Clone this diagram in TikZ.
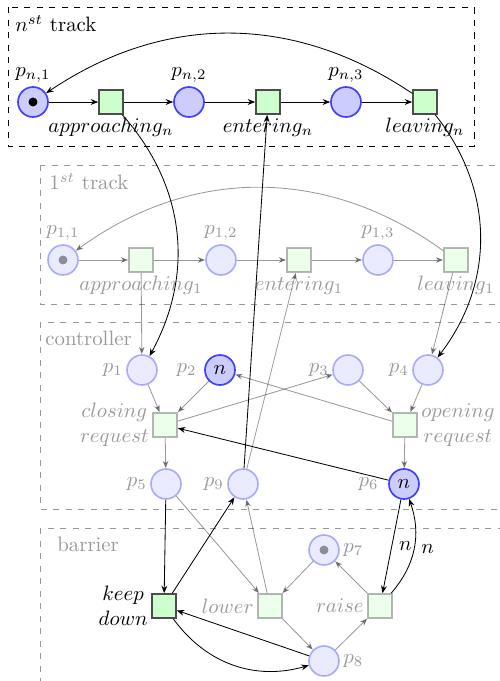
\documentclass[tikz,border=0pt]{standalone}
\usepackage{amsmath}
\usepackage{tikz}
\usetikzlibrary{arrows.meta,petri}

\tikzset{
	place/.style={circle,thick,draw=blue!75,fill=blue!20,minimum size=14.4pt,inner sep=0pt},
	transition/.style={rectangle,thick,draw=black!70,fill=green!20,minimum size=11.5pt,inner sep=0pt},
	faded/.style={opacity=0.4},
	grouping/.style={dashed,thin},
	every token/.style={minimum size=4.3pt},
	every label/.style={inner sep=1.5pt}
}

\begin{document}
\begin{tikzpicture}[x=0.48pt,y=-0.48pt,>={Stealth[length=3.6pt,width=2.8pt]},thin]
	\useasboundingbox (0,0) rectangle (500,681);

	% Rahmen
	\draw[grouping] (8,7) rectangle (474,146);
	\node[anchor=north west] (lbltrackn) at (8,8) {$n^{st}$ track};
	\begin{scope}[faded]
		\draw[grouping] (40,165) rectangle (510,304);
		\draw[grouping] (40,322) rectangle (510,509);
		\draw[grouping] (40,528) rectangle (510,690);
		\node[anchor=north west] (lbltrackone) at (42,166) {$1^{st}$ track};
		\node[anchor=north west] (lblctrl) at (38,324) {controller};
		\node[anchor=north west] (lblbarrier) at (50,530) {barrier};
	\end{scope}

	% n-tes Gleis
	\node[place,tokens=1,label=above:$p_{n,1}$] (pn1) at (33,102) {};
	\node[transition,label=below:$approaching_n$] (tappn) at (111,102) {};
	\node[place,label=above:$p_{n,2}$] (pn2) at (189,102) {};
	\node[transition,label=below:$entering_n$] (tentn) at (268,102) {};
	\node[place,label=above:$p_{n,3}$] (pn3) at (346,102) {};
	\node[transition,label=below:$leaving_n$] (tleavn) at (425,102) {};
	\draw[->] (pn1) -- (tappn);
	\draw[->] (tappn) -- (pn2);
	\draw[->] (pn2) -- (tentn);
	\draw[->] (tentn) -- (pn3);
	\draw[->] (pn3) -- (tleavn);
	\draw[->] (tleavn) to[bend right=34] (pn1);

	% 1. Gleis, Steuerung, Schranke (blass)
	\begin{scope}[faded]
		\node[place,tokens=1,label=above:$p_{1,1}$] (p11) at (63,260) {};
		\node[transition,label=below:$approaching_1$] (tapp1) at (141,260) {};
		\node[place,label=above:$p_{1,2}$] (p12) at (221,260) {};
		\node[transition,label=below:$entering_1$] (tent1) at (299,260) {};
		\node[place,label=above:$p_{1,3}$] (p13) at (378,260) {};
		\node[transition,label=below:$leaving_1$] (tleav1) at (456,260) {};
		\draw[->] (p11) -- (tapp1);
		\draw[->] (tapp1) -- (p12);
		\draw[->] (p12) -- (tent1);
		\draw[->] (tent1) -- (p13);
		\draw[->] (p13) -- (tleav1);
		\draw[->] (tleav1) to[bend right=36] (p11);

		\node[place,label=left:$p_1$] (p1) at (142,370) {};
		\node[place,label=left:$p_3$] (p3) at (348,370) {};
		\node[place,label=left:$p_4$] (p4) at (428,370) {};
		\node[transition,label={[align=center]left:$closing$\\$request$}] (tclose) at (165,425) {};
		\node[transition,label={[align=center]right:$opening$\\$request$}] (topen) at (405,425) {};
		\node[place,label=left:$p_5$] (p5) at (166,484) {};
		\node[place,label=left:$p_9$] (p9) at (243,484) {};

		\node[place,tokens=1,label=right:$p_7$] (p7) at (324,550) {};
		\node[transition,label=left:$lower$] (tlower) at (270,606) {};
		\node[transition,label=left:$raise$] (traise) at (380,606) {};
		\node[place,label=right:$p_8$] (p8) at (324,661) {};
	\end{scope}

	% Steuerung (Stellen mit n Marken)
	\node[place,label={[text=black!40,xshift=-2pt]left:$p_2$}] (p2) at (220,370) {$n$};
	\node[place,label={[text=black!40,xshift=-3pt]left:$p_6$}] (p6) at (404,484) {$n$};
	\node[transition,label={[align=center]left:$keep$\\$down$}] (tkeep) at (164,606) {};

	% blasse Kanten
	\begin{scope}[faded]
		\draw[->] (tapp1) -- (p1);
		\draw[->] (tleav1) -- (p4);
		\draw[->] (p9) -- (tent1);
		\draw[->] (p1) -- (tclose);
		\draw[->] (p2) -- (tclose);
		\draw[->] (tclose) -- (p3);
		\draw[->] (p3) -- (topen);
		\draw[->] (p4) -- (topen);
		\draw[->] (topen) -- (p2);
		\draw[->] (tclose) -- (p5);
		\draw[->] (topen) -- (p6);
		\draw[->] (p5) -- (tlower);
		\draw[->] (tlower) -- (p9);
		\draw[->] (p7) -- (tlower);
		\draw[->] (traise) -- (p7);
		\draw[->] (tlower) -- (p8);
		\draw[->] (p8) -- (traise);
	\end{scope}

	% Kanten zwischen den Teilen
	\draw[->] (tappn) to[bend left=35] (p1);
	\draw[->] (tleavn) to[bend left=38] (p4);
	\draw[->] (p9) -- (tentn);
	\draw[->] (p6) -- (tclose);
	\draw[->] (p6) -- node[right] {$n$} (traise);
	\draw[->] (traise) to[bend right=30] node[right] {$n$} (p6);
	\draw[->] (p5) -- (tkeep);
	\draw[->] (tkeep) -- (p9);
	\draw[->] (p8) -- (tkeep);
	\draw[->] (tkeep) to[bend right=35] (p8);
\end{tikzpicture}
\end{document}
